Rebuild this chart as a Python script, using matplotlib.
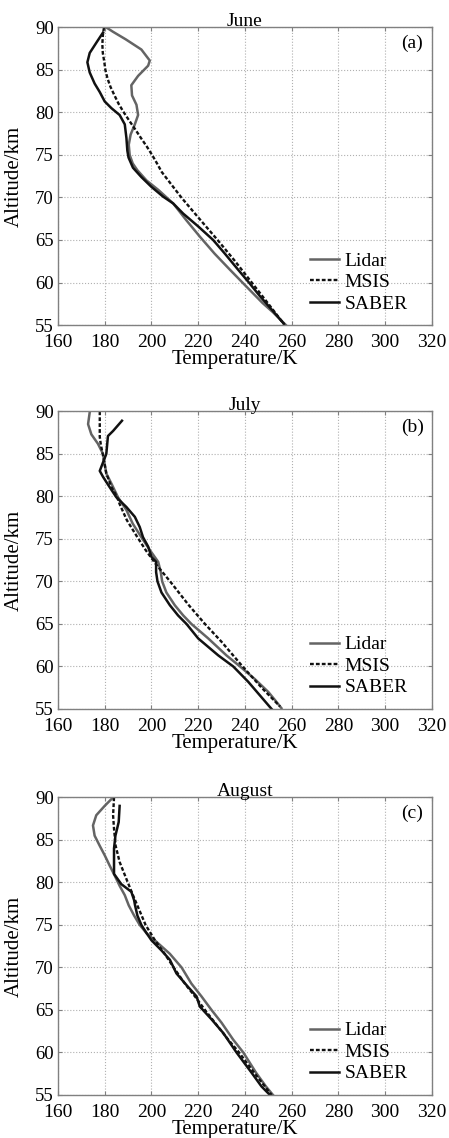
import matplotlib
matplotlib.use('Agg')
import matplotlib.pyplot as plt

plt.rcParams['font.family'] = ['Liberation Serif', 'DejaVu Serif']

# ---- June (a) ----
june_lidar_alt = [90, 89.5, 88.6, 87.4, 86.1, 85.5, 84.3, 83.2, 82.0, 80.9, 79.7, 78.6, 77.4, 76.2,
                  75.0, 74.0, 73.2, 72.0, 70.9, 69.3, 67.3, 65.4, 63.4, 61.5, 59.5, 57.6, 56.5, 55.0]
june_lidar_t = [180.7, 183.5, 189.0, 195.7, 199.3, 198.6, 194.3, 191.4, 191.7, 193.6, 194.3, 192.9, 191.1, 190.3,
                190.7, 192.0, 194.0, 197.9, 202.9, 209.3, 215.0, 220.7, 227.0, 233.6, 240.7, 247.5, 252.0, 257.5]
june_msis_alt = [90, 89, 88, 87, 86, 85, 84, 83, 82, 81, 80, 79, 78, 77, 76, 75, 74, 73, 72, 71, 70,
                 67.5, 65, 62.5, 60, 57.5, 55]
june_msis_t = [179.7, 179.2, 179.0, 179.2, 179.8, 180.3, 181.2, 182.5, 184.2, 186.0, 188.2, 190.6, 193.1, 195.5,
               198.0, 200.3, 202.4, 204.4, 207.2, 210.0, 212.8, 220.5, 228.3, 235.8, 242.9, 250.0, 257.0]
june_saber_alt = [89.4, 88.4, 87.0, 85.9, 84.7, 83.4, 82.4, 81.3, 80.5, 79.7, 78.6, 77.0, 75.5, 74.7,
                  73.5, 72.4, 71.25, 70.1, 69.3, 68.1, 66.6, 65.0, 63.4, 61.5, 59.9, 58.4, 56.8, 55.2]
june_saber_t = [179.3, 176.9, 173.6, 172.6, 173.6, 175.7, 177.9, 180.0, 182.9, 186.4, 188.6, 189.3, 189.7, 190.2,
                192.1, 195.7, 200.0, 205.0, 209.3, 213.6, 220.0, 226.4, 231.4, 237.1, 242.0, 246.4, 251.5, 256.5]

# ---- July (b) ----
july_lidar_alt = [89.9, 88.5, 87.3, 86.2, 85.0, 83.8, 82.7, 81.5, 79.9, 78.4, 76.8, 75.2, 73.7, 72.3,
                  71.1, 70.0, 68.7, 67.2, 66.0, 65.0, 63.3, 61.3, 60.0, 58.5, 57.0, 56.0, 55.1]
july_lidar_t = [173.6, 172.9, 174.3, 177.1, 179.3, 180.0, 180.7, 182.9, 185.7, 189.3, 192.0, 195.7, 199.3, 202.9,
                204.0, 204.6, 206.4, 210.0, 213.6, 217.1, 224.3, 232.1, 237.9, 244.3, 250.0, 253.0, 255.6]
july_msis_alt = [90, 87.0, 86.2, 84.2, 82.7, 81.1, 80.0, 79.1, 77.2, 75.2, 73.7, 72.0, 70.0, 67.2,
                 65.0, 62.9, 60.0, 57.4, 55.3]
july_msis_t = [177.9, 177.9, 178.3, 179.7, 180.7, 182.9, 185.2, 186.4, 189.5, 194.0, 197.5, 202.0, 208.0, 216.0,
               222.9, 230.0, 239.0, 247.5, 255.0]
july_saber_alt = [88.9, 87.7, 87.1, 86.2, 85.0, 84.0, 83.0, 82.3, 81.1, 79.9, 78.75, 77.6, 76.4, 75.2,
                  74.1, 72.9, 72.3, 71.1, 70.0, 68.7, 67.2, 66.0, 65.0, 63.3, 61.3, 60.0, 58.2, 56.6, 55.0]
july_saber_t = [187.4, 183.6, 181.4, 181.1, 180.7, 179.3, 177.9, 179.3, 182.1, 185.0, 189.3, 192.9, 195.0, 196.4,
                198.6, 200.0, 202.0, 202.0, 202.6, 204.3, 207.9, 211.4, 215.0, 220.0, 228.6, 235.0, 241.4, 246.4, 251.4]

# ---- August (c) ----
aug_lidar_alt = [90, 89.0, 87.9, 86.7, 85.5, 84.3, 83.2, 82.0, 80.8, 79.6, 78.5, 77.3, 76.1, 75.0,
                 74.0, 73.2, 71.6, 70.0, 68.1, 66.6, 65.0, 63.5, 61.5, 60.0, 57.6, 56.0, 55.0]
aug_lidar_t = [183.6, 180.0, 176.4, 175.0, 175.7, 177.9, 180.0, 182.1, 184.3, 186.4, 188.6, 190.3, 192.6, 195.0,
               198.0, 201.4, 207.9, 212.9, 217.1, 221.4, 225.7, 230.0, 235.0, 239.3, 244.8, 249.0, 252.0]
aug_msis_alt = [90, 87.9, 86.3, 84.3, 82.4, 80.4, 78.5, 76.5, 75.0, 73.2, 71.6, 70.0, 68.1, 66.6,
                65.0, 63.1, 61.5, 60.0, 57.6, 55.0]
aug_msis_t = [184.0, 183.6, 184.0, 184.7, 186.4, 189.3, 192.1, 195.2, 197.5, 201.5, 205.7, 209.5, 214.3, 218.6,
              222.9, 228.3, 232.9, 237.5, 244.0, 251.4]
aug_saber_alt = [89.0, 87.1, 85.5, 84.0, 82.4, 81.0, 79.8, 78.9, 77.9, 77.3, 76.1, 75.0, 74.0, 73.2,
                 72.0, 70.9, 69.3, 67.7, 66.6, 65.4, 63.9, 62.3, 60.0, 57.6, 56.0, 55.0]
aug_saber_t = [186.4, 186.0, 184.6, 184.0, 184.0, 184.0, 187.1, 191.4, 192.6, 193.0, 194.0, 195.7, 198.0, 200.0,
               204.3, 207.9, 210.7, 215.7, 219.3, 220.7, 225.7, 230.7, 236.4, 242.9, 247.1, 250.7]

months = ['June', 'July', 'August']
tags = ['(a)', '(b)', '(c)']
panels = [
    (june_lidar_t, june_lidar_alt, june_msis_t, june_msis_alt, june_saber_t, june_saber_alt),
    (july_lidar_t, july_lidar_alt, july_msis_t, july_msis_alt, july_saber_t, july_saber_alt),
    (aug_lidar_t, aug_lidar_alt, aug_msis_t, aug_msis_alt, aug_saber_t, aug_saber_alt),
]
x_ticks = [160, 180, 200, 220, 240, 260, 280, 300, 320]
y_ticks = [55, 60, 65, 70, 75, 80, 85, 90]

fig = plt.figure(figsize=(4.49, 11.38), dpi=100)
bottoms = [0.7144, 0.3770, 0.0378]

for i in range(3):
    ax = fig.add_axes([0.129, bottoms[i], 0.833, 0.2615])
    lt, la, mt, ma, st, sa = panels[i]
    ax.plot(lt, la, color='#646464', lw=1.8, label='Lidar')
    ax.plot(mt, ma, color='#111111', lw=1.7, dashes=(1.6, 0.9), label='MSIS')
    ax.plot(st, sa, color='#111111', lw=1.8, label='SABER')

    ax.set_xlim(160, 320)
    ax.set_ylim(55, 90)
    ax.set_xticks(x_ticks)
    ax.set_yticks(y_ticks)
    ax.grid(True, linestyle=':', color='#b0b0b0', lw=0.8)
    for sp in ax.spines.values():
        sp.set_color('#808080')
        sp.set_linewidth(1.0)
    ax.tick_params(direction='in', length=3, color='#808080', top=True, right=True)
    ax.tick_params(axis='x', pad=6.5, labelsize=14)
    ax.tick_params(axis='y', pad=3, labelsize=13.5)

    ax.set_title(months[i], fontsize=14, pad=1)
    ax.text(0.947, 0.946, tags[i], transform=ax.transAxes, ha='center', va='center', fontsize=14)
    ax.set_xlabel('Temperature/K', fontsize=15)
    ax.xaxis.set_label_coords(0.473, -0.085)
    ax.set_ylabel('Altitude/km', fontsize=15)
    ax.yaxis.set_label_coords(-0.09, 0.5)

    ax.legend(loc='lower right', bbox_to_anchor=(0.935, 0.042), frameon=False, fontsize=14,
              borderpad=0, borderaxespad=0, handlelength=1.45, handletextpad=0.3, labelspacing=0.2)

plt.savefig('out.png', dpi=100)
